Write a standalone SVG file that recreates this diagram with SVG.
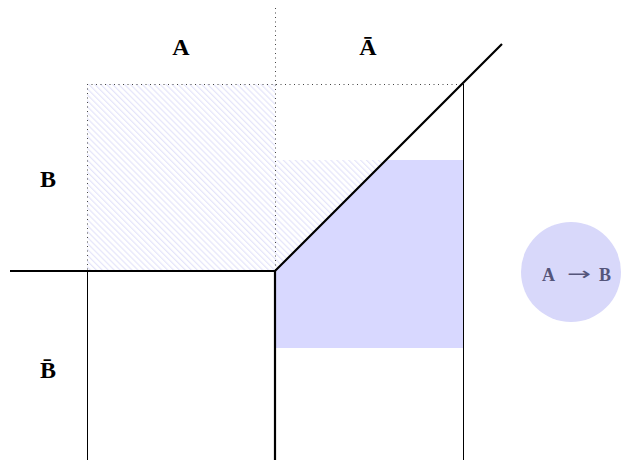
<svg xmlns="http://www.w3.org/2000/svg" width="626" height="460" viewBox="0 0 626 460">
<style>
.lbl{font-family:"Liberation Serif","DejaVu Serif",serif;font-weight:bold;font-size:24px;text-anchor:middle;fill:#000}
.imp{font-family:"Liberation Serif","DejaVu Serif",serif;font-weight:bold;font-size:18px;text-anchor:middle;fill:#55557a}
.arr{font-family:"DejaVu Sans",sans-serif;font-weight:normal;font-size:18px;text-anchor:start;fill:#55557a}
.dot{stroke:#444;stroke-width:1;stroke-dasharray:1 3.5;fill:none}
.thin{stroke:#000;stroke-width:1;fill:none}
.thick{stroke:#000;stroke-width:2.2;fill:none}
</style>
<defs>
<pattern id="hatch" width="4.2" height="4.2" patternUnits="userSpaceOnUse" patternTransform="rotate(45)">
<line x1="0" y1="1" x2="4.2" y2="1" stroke="#dcdcf8" stroke-width="0.9"/>
</pattern>
</defs>
<rect width="626" height="460" fill="#fff"/>
<g id="regions">
<path d="M87,84 H275 V160 H386 L275,271 H87 Z" fill="url(#hatch)"/>
<path d="M275,271 L386,160 H463 V348 H275 Z" fill="#d8d8ff"/>
</g>
<g id="connectors">
<line class="dot" x1="275.5" y1="8" x2="275.5" y2="270"/>
<line class="dot" x1="87" y1="84.5" x2="463" y2="84.5"/>
<line class="dot" x1="87.5" y1="84" x2="87.5" y2="270"/>
<line class="thin" x1="87.5" y1="271" x2="87.5" y2="460"/>
<line class="thin" x1="463.5" y1="84" x2="463.5" y2="460"/>
<polyline class="thick" points="10,271 275,271 502,44"/>
<line class="thick" x1="275" y1="271" x2="275" y2="460"/>
</g>
<g id="label-A"><text class="lbl" x="181" y="55">A</text></g>
<g id="label-notA"><text class="lbl" x="368" y="55">Ā</text></g>
<g id="label-B"><text class="lbl" x="48" y="187">B</text></g>
<g id="label-notB"><text class="lbl" x="48" y="378">B̄</text></g>
<g id="implication">
<circle cx="571" cy="272" r="50" fill="#d8d8fa"/>
<text class="imp" x="548.5" y="281">A</text>
<text class="arr" x="567" y="280" textLength="24" lengthAdjust="spacingAndGlyphs">→</text>
<text class="imp" x="605" y="281">B</text>
</g>
</svg>
